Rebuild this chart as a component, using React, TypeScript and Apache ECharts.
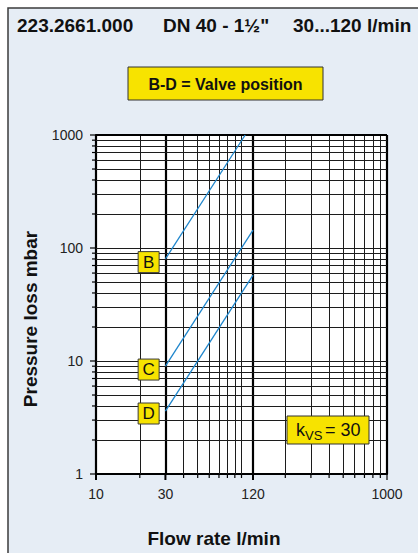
import React, { useEffect, useRef } from "react";
import * as echarts from "echarts";

// ---- data ----
const titleParts = ["223.2661.000", "DN 40 - 1½\"", "30...120 l/min"];
const legendText = "B-D = Valve position";
const xTitle = "Flow rate l/min";
const yTitle = "Pressure loss mbar";

const xGridValues = [20, 30, 40, 50, 60, 70, 80, 90, 100, 120, 200, 300, 400, 500, 600, 700, 800, 900, 1000];
const xThickValues = [30, 120];
const yGridValues = [2, 3, 4, 5, 6, 7, 8, 9, 10, 20, 30, 40, 50, 60, 70, 80, 90, 100, 200, 300, 400, 500, 600, 700, 800, 900, 1000];
const xTickValues = [10, 20, 30, 40, 50, 60, 70, 80, 90, 100, 120, 200, 300, 400, 500, 600, 700, 800, 900, 1000];
const yTickValues = [1, 2, 3, 4, 5, 6, 7, 8, 9, 10, 20, 30, 40, 50, 60, 70, 80, 90, 100, 200, 300, 400, 500, 600, 700, 800, 900, 1000];
const xTickLabels = [10, 30, 120, 1000];
const yTickLabels = [1, 10, 100, 1000];

const flowB = [30, 106];
const lossB = [80, 1000];
const flowC = [30, 120];
const lossC = [9, 144];
const flowD = [30, 120];
const lossD = [3.6, 57.6];

const positionNames = ["B", "C", "D"];
const positionFlow = [23, 23, 23];
const positionLoss = [75, 8.4, 3.43];

const kvsValue = 30;

const FONT = '"Liberation Sans", Arial, Helvetica, sans-serif';
const BLUE = "#1f86cc";
const YELLOW = "#f7e300";
const PANEL = "#e6edf5";

export default function App() {
  const ref = useRef<HTMLDivElement>(null);

  useEffect(() => {
    if (!ref.current) return;
    const chart = echarts.init(ref.current, null, { renderer: "svg" });

    const zip = (xs: number[], ys: number[]) => xs.map((x, i) => [x, ys[i]]);

    const markData: any[] = [
      ...xGridValues.map((v) => ({
        xAxis: v,
        lineStyle: xThickValues.includes(v) || v === 1000 ? { width: 2.2, color: "#000" } : undefined,
      })),
      ...yGridValues.map((v) => ({
        yAxis: v,
        lineStyle: v === 1000 ? { width: 1.8, color: "#000" } : undefined,
      })),
    ];

    const lineSeries = (name: string, xs: number[], ys: number[]) => ({
      name,
      type: "line",
      data: zip(xs, ys),
      symbol: "none",
      z: 5,
      lineStyle: { color: BLUE, width: 1.3 },
    });

    chart.setOption({
      animation: false,
      backgroundColor: "#ffffff",
      grid: {
        left: 96,
        top: 135,
        width: 291,
        height: 339,
        show: true,
        backgroundColor: "#ffffff",
        borderWidth: 0,
      },
      xAxis: {
        type: "log",
        logBase: 10,
        min: 10,
        max: 1000,
        axisLine: { show: true, onZero: false, lineStyle: { color: "#000", width: 2.2 } },
        axisTick: { show: false },
        axisLabel: { show: false },
        splitLine: { show: false },
      },
      yAxis: {
        type: "log",
        logBase: 10,
        min: 1,
        max: 1000,
        axisLine: { show: true, onZero: false, lineStyle: { color: "#000", width: 2.2 } },
        axisTick: { show: false },
        axisLabel: { show: false },
        splitLine: { show: false },
      },
      series: [
        {
          name: "grid",
          type: "line",
          data: [],
          z: 1,
          markLine: {
            silent: true,
            symbol: ["none", "none"],
            label: { show: false },
            lineStyle: { color: "#1c1c1c", width: 1, type: "solid" },
            data: markData,
          },
        },
        lineSeries("B", flowB, lossB),
        lineSeries("C", flowC, lossC),
        lineSeries("D", flowD, lossD),
        {
          name: "positions",
          type: "scatter",
          z: 6,
          symbol: "rect",
          symbolSize: [21, 21],
          itemStyle: { color: YELLOW, borderColor: "#3a3a3a", borderWidth: 1, opacity: 1 },
          label: {
            show: true,
            position: "inside",
            formatter: (p: any) => p.name,
            fontFamily: FONT,
            fontSize: 17,
            color: "#111",
          },
          data: positionNames.map((n, i) => ({ name: n, value: [positionFlow[i], positionLoss[i]] })),
        },
      ],
    });

    const px = (x: number, y: number) => chart.convertToPixel({ gridIndex: 0 }, [x, y]) as number[];
    const [axisX, axisY] = px(10, 1);

    const graphics: any[] = [];
    graphics.push({
      type: "rect",
      z: -10,
      shape: { x: 8, y: 8, width: 440, height: 570 },
      style: { fill: PANEL, stroke: "#3b3b3b", lineWidth: 1.5 },
    });
    // title
    const titleX = [17, 163, 293];
    titleParts.forEach((t, i) =>
      graphics.push({
        type: "text",
        x: titleX[i],
        y: 25,
        style: { text: t, font: `bold 19px ${FONT}`, fill: "#111", verticalAlign: "middle", align: "left" },
      })
    );
    // legend box
    graphics.push({
      type: "rect",
      z: 20,
      shape: { x: 128, y: 67, width: 195, height: 33 },
      style: { fill: YELLOW, stroke: "#333", lineWidth: 1 },
    });
    graphics.push({
      type: "text",
      z: 21,
      x: 225.5,
      y: 84,
      style: { text: legendText, font: `bold 16px ${FONT}`, fill: "#111", align: "center", verticalAlign: "middle" },
    });
    // axis titles
    graphics.push({
      type: "text",
      x: 214,
      y: 538,
      style: { text: xTitle, font: `bold 19px ${FONT}`, fill: "#111", align: "center", verticalAlign: "middle" },
    });
    graphics.push({
      type: "text",
      x: 30.5,
      y: 319,
      rotation: Math.PI / 2,
      style: { text: yTitle, font: `bold 19px ${FONT}`, fill: "#111", align: "center", verticalAlign: "middle" },
    });
    // ticks
    xTickValues.forEach((v) => {
      const [x] = px(v, 1);
      const len = xTickLabels.includes(v) ? 6 : 4;
      graphics.push({
        type: "line",
        shape: { x1: x, y1: axisY, x2: x, y2: axisY + len },
        style: { stroke: "#000", lineWidth: xThickValues.includes(v) || v === 10 ? 2 : 1.2 },
      });
    });
    yTickValues.forEach((v) => {
      const [, y] = px(10, v);
      const len = yTickLabels.includes(v) ? 6 : 4;
      graphics.push({
        type: "line",
        shape: { x1: axisX - len, y1: y, x2: axisX, y2: y },
        style: { stroke: "#000", lineWidth: 1.2 },
      });
    });
    // tick labels
    xTickLabels.forEach((v) => {
      const [x] = px(v, 1);
      graphics.push({
        type: "text",
        x,
        y: axisY + 20,
        style: { text: String(v), font: `14px ${FONT}`, fill: "#222", align: "center", verticalAlign: "middle" },
      });
    });
    yTickLabels.forEach((v) => {
      const [, y] = px(10, v);
      graphics.push({
        type: "text",
        x: axisX - 13,
        y,
        style: { text: String(v), font: `14px ${FONT}`, fill: "#222", align: "right", verticalAlign: "middle" },
      });
    });
    // kvs box
    graphics.push({
      type: "rect",
      z: 20,
      shape: { x: 287, y: 416, width: 82, height: 28 },
      style: { fill: YELLOW, stroke: "#333", lineWidth: 1 },
    });
    graphics.push({
      type: "text",
      z: 21,
      x: 296,
      y: 430,
      style: { text: "k", font: `18px ${FONT}`, fill: "#111", align: "left", verticalAlign: "middle" },
    });
    graphics.push({
      type: "text",
      z: 21,
      x: 305,
      y: 435,
      style: { text: "VS", font: `13px ${FONT}`, fill: "#111", align: "left", verticalAlign: "middle" },
    });
    graphics.push({
      type: "text",
      z: 21,
      x: 325,
      y: 430,
      style: { text: `= ${kvsValue}`, font: `18px ${FONT}`, fill: "#111", align: "left", verticalAlign: "middle" },
    });

    chart.setOption({ graphic: graphics });

    return () => chart.dispose();
  }, []);

  return (
    <div
      ref={ref}
      style={{ position: "fixed", left: 0, top: 0, width: 418, height: 553 }}
    />
  );
}
